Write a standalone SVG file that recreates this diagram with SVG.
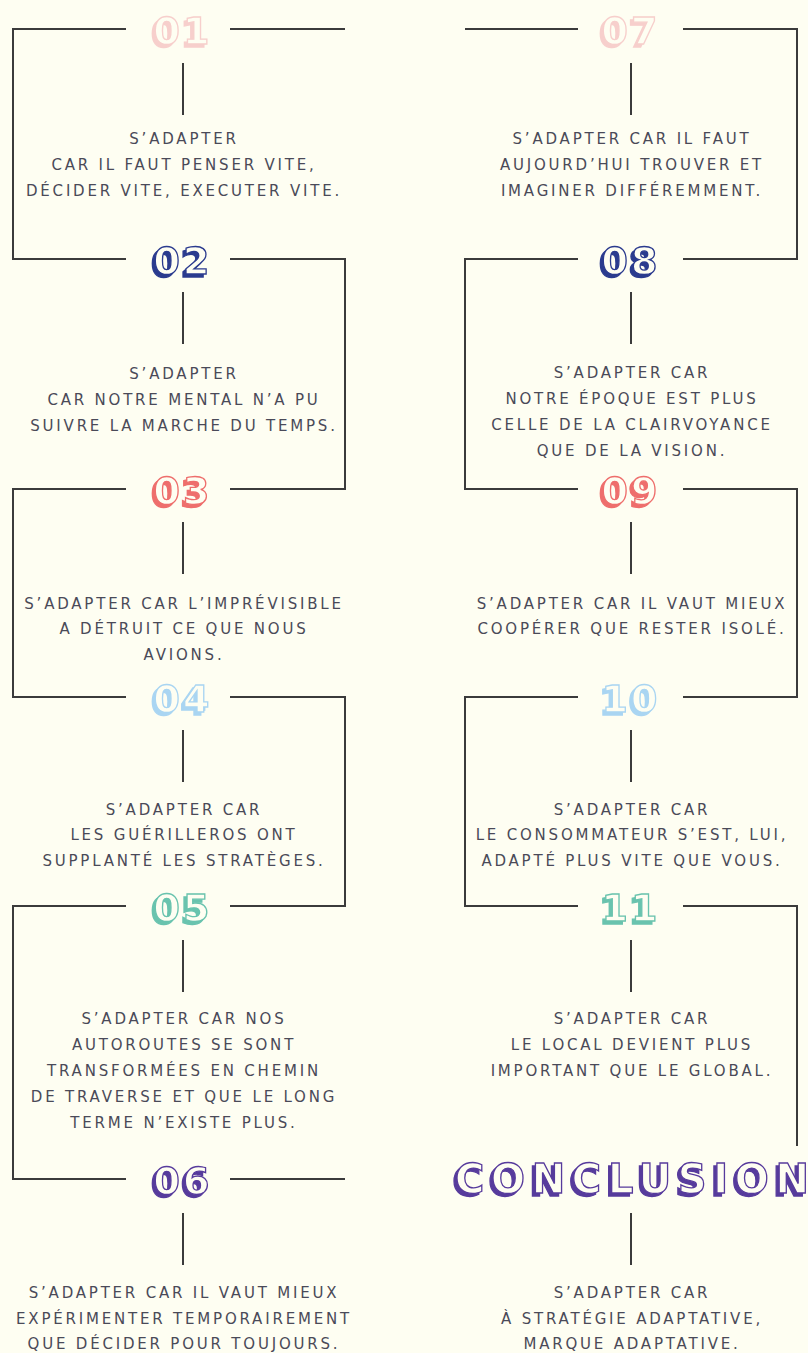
<svg xmlns="http://www.w3.org/2000/svg" width="808" height="1353" viewBox="0 0 808 1353">
<style>
.ln{fill:none;stroke:#3b3b3b;stroke-width:2}
.t{font-family:"DejaVu Sans","Liberation Sans",sans-serif;font-size:15px;letter-spacing:2.8px;fill:#4a4a58;text-anchor:middle}
.n{font-family:"DejaVu Sans",sans-serif;font-weight:bold;font-size:38px;letter-spacing:3px;text-anchor:middle;fill:#fefef2;stroke-width:1.3}
.c1 .n{stroke:#f7cfcc;filter:url(#f1)}
.c2 .n{stroke:#2b3a8e;filter:url(#f2)}
.c3 .n{stroke:#ee6e6c;filter:url(#f3)}
.c4 .n{stroke:#a9d5f2;filter:url(#f4)}
.c5 .n{stroke:#69c3ae;filter:url(#f5)}
.c6 .n{stroke:#573a9c;filter:url(#f6)}
.cc{font-size:40px;letter-spacing:0}
</style>
<defs>
<filter id="f1" x="-20%" y="-30%" width="140%" height="160%"><feOffset in="SourceAlpha" dx="-3" dy="3" result="o"/><feFlood flood-color="#f7cfcc"/><feComposite in2="o" operator="in" result="s"/><feMerge><feMergeNode in="s"/><feMergeNode in="SourceGraphic"/></feMerge></filter>
<filter id="f2" x="-20%" y="-30%" width="140%" height="160%"><feOffset in="SourceAlpha" dx="-3" dy="3" result="o"/><feFlood flood-color="#2b3a8e"/><feComposite in2="o" operator="in" result="s"/><feMerge><feMergeNode in="s"/><feMergeNode in="SourceGraphic"/></feMerge></filter>
<filter id="f3" x="-20%" y="-30%" width="140%" height="160%"><feOffset in="SourceAlpha" dx="-3" dy="3" result="o"/><feFlood flood-color="#ee6e6c"/><feComposite in2="o" operator="in" result="s"/><feMerge><feMergeNode in="s"/><feMergeNode in="SourceGraphic"/></feMerge></filter>
<filter id="f4" x="-20%" y="-30%" width="140%" height="160%"><feOffset in="SourceAlpha" dx="-3" dy="3" result="o"/><feFlood flood-color="#a9d5f2"/><feComposite in2="o" operator="in" result="s"/><feMerge><feMergeNode in="s"/><feMergeNode in="SourceGraphic"/></feMerge></filter>
<filter id="f5" x="-20%" y="-30%" width="140%" height="160%"><feOffset in="SourceAlpha" dx="-3" dy="3" result="o"/><feFlood flood-color="#69c3ae"/><feComposite in2="o" operator="in" result="s"/><feMerge><feMergeNode in="s"/><feMergeNode in="SourceGraphic"/></feMerge></filter>
<filter id="f6" x="-10%" y="-30%" width="120%" height="160%"><feOffset in="SourceAlpha" dx="-3" dy="3" result="o"/><feFlood flood-color="#573a9c"/><feComposite in2="o" operator="in" result="s"/><feMerge><feMergeNode in="s"/><feMergeNode in="SourceGraphic"/></feMerge></filter>
</defs>
<rect width="808" height="1353" fill="#fefef2"/>
<g id="connectors">
<path class="ln" d="M126,29 H13 V259 H126"/>
<path class="ln" d="M230,29 H345"/>
<path class="ln" d="M230,259 H345 V489 H230"/>
<path class="ln" d="M126,489 H13 V697 H126"/>
<path class="ln" d="M230,697 H345 V906 H230"/>
<path class="ln" d="M126,906 H13 V1179 H126"/>
<path class="ln" d="M230,1179 H345"/>
<path class="ln" d="M465,29 H578"/>
<path class="ln" d="M683,29 H797 V259 H683"/>
<path class="ln" d="M578,259 H465 V489 H578"/>
<path class="ln" d="M683,489 H797 V697 H683"/>
<path class="ln" d="M578,697 H465 V906 H578"/>
<path class="ln" d="M683,906 H797 V1146"/>
<path class="ln" d="M183,63 V115 M183,292 V344 M183,522 V574 M183,730 V782 M183,940 V992 M183,1213 V1265"/>
<path class="ln" d="M631,63 V115 M631,292 V344 M631,522 V574 M631,730 V782 M631,940 V992 M631,1213 V1265"/>
</g>
<g id="n01" class="c1"><text class="n" x="183" y="44">01</text>
<text class="t" x="184" y="144">S’ADAPTER</text><text class="t" x="184" y="170">CAR IL FAUT PENSER VITE,</text><text class="t" x="184" y="196">DÉCIDER VITE, EXECUTER VITE.</text></g>
<g id="n02" class="c2"><text class="n" x="183" y="274">02</text>
<text class="t" x="184" y="379">S’ADAPTER</text><text class="t" x="184" y="405">CAR NOTRE MENTAL N’A PU</text><text class="t" x="184" y="431">SUIVRE LA MARCHE DU TEMPS.</text></g>
<g id="n03" class="c3"><text class="n" x="183" y="504">03</text>
<text class="t" x="184" y="609">S’ADAPTER CAR L’IMPRÉVISIBLE</text><text class="t" x="184" y="634">A DÉTRUIT CE QUE NOUS</text><text class="t" x="184" y="660">AVIONS.</text></g>
<g id="n04" class="c4"><text class="n" x="183" y="712">04</text>
<text class="t" x="184" y="815">S’ADAPTER CAR</text><text class="t" x="184" y="840">LES GUÉRILLEROS ONT</text><text class="t" x="184" y="866">SUPPLANTÉ LES STRATÈGES.</text></g>
<g id="n05" class="c5"><text class="n" x="183" y="921">05</text>
<text class="t" x="184" y="1024">S’ADAPTER CAR NOS</text><text class="t" x="184" y="1050">AUTOROUTES SE SONT</text><text class="t" x="184" y="1076">TRANSFORMÉES EN CHEMIN</text><text class="t" x="184" y="1102">DE TRAVERSE ET QUE LE LONG</text><text class="t" x="184" y="1128">TERME N’EXISTE PLUS.</text></g>
<g id="n06" class="c6"><text class="n" x="183" y="1194">06</text>
<text class="t" x="184" y="1298">S’ADAPTER CAR IL VAUT MIEUX</text><text class="t" x="184" y="1324">EXPÉRIMENTER TEMPORAIREMENT</text><text class="t" x="184" y="1349">QUE DÉCIDER POUR TOUJOURS.</text></g>
<g id="n07" class="c1"><text class="n" x="631" y="44">07</text>
<text class="t" x="632" y="144">S’ADAPTER CAR IL FAUT</text><text class="t" x="632" y="170">AUJOURD’HUI TROUVER ET</text><text class="t" x="632" y="196">IMAGINER DIFFÉREMMENT.</text></g>
<g id="n08" class="c2"><text class="n" x="631" y="274">08</text>
<text class="t" x="632" y="378">S’ADAPTER CAR</text><text class="t" x="632" y="404">NOTRE ÉPOQUE EST PLUS</text><text class="t" x="632" y="430">CELLE DE LA CLAIRVOYANCE</text><text class="t" x="632" y="456">QUE DE LA VISION.</text></g>
<g id="n09" class="c3"><text class="n" x="631" y="504">09</text>
<text class="t" x="632" y="609">S’ADAPTER CAR IL VAUT MIEUX</text><text class="t" x="632" y="634">COOPÉRER QUE RESTER ISOLÉ.</text></g>
<g id="n10" class="c4"><text class="n" x="631" y="712">10</text>
<text class="t" x="632" y="815">S’ADAPTER CAR</text><text class="t" x="632" y="840">LE CONSOMMATEUR S’EST, LUI,</text><text class="t" x="632" y="866">ADAPTÉ PLUS VITE QUE VOUS.</text></g>
<g id="n11" class="c5"><text class="n" x="631" y="921">11</text>
<text class="t" x="632" y="1024">S’ADAPTER CAR</text><text class="t" x="632" y="1050">LE LOCAL DEVIENT PLUS</text><text class="t" x="632" y="1076">IMPORTANT QUE LE GLOBAL.</text></g>
<g id="conclusion" class="c6"><text class="n cc" x="632" y="1193" textLength="354" lengthAdjust="spacing">CONCLUSION</text>
<text class="t" x="632" y="1298">S’ADAPTER CAR</text><text class="t" x="632" y="1324">À STRATÉGIE ADAPTATIVE,</text><text class="t" x="632" y="1349">MARQUE ADAPTATIVE.</text></g>
</svg>
